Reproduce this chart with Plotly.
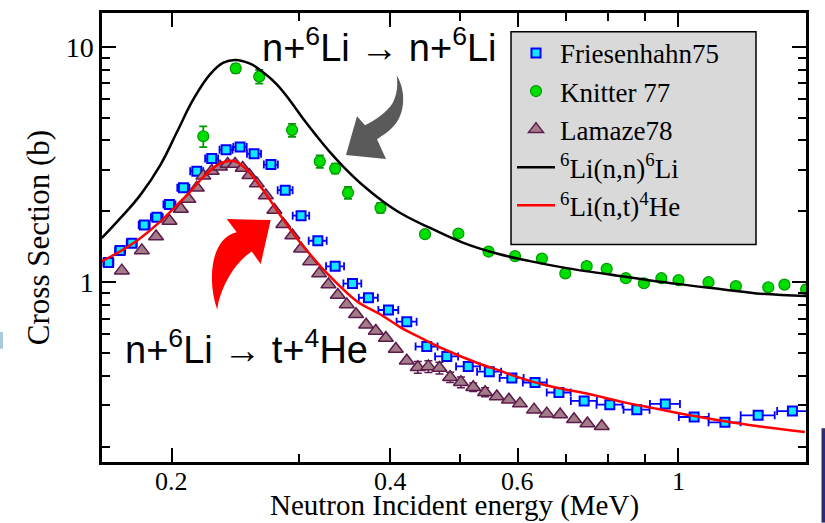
import math
import plotly.graph_objects as go

# ---------------- data ----------------
fr_x = [0.1635, 0.1697, 0.1761, 0.1832, 0.1907, 0.1985, 0.2075, 0.2165, 0.227, 0.2376,
        0.2484, 0.2597, 0.274, 0.2867, 0.3015, 0.318, 0.336, 0.355, 0.3735, 0.398,
        0.4218, 0.4495, 0.479, 0.5128, 0.5483, 0.589, 0.634, 0.684, 0.741, 0.804,
        0.876, 0.959, 1.051, 1.159, 1.288, 1.436]
fr_y = [1.214, 1.365, 1.465, 1.752, 1.886, 2.14, 2.52, 2.96, 3.35, 3.65,
        3.75, 3.51, 3.16, 2.46, 1.918, 1.50, 1.168, 0.987, 0.859, 0.762,
        0.680, 0.533, 0.484, 0.439, 0.417, 0.392, 0.375, 0.340, 0.313, 0.302,
        0.2875, 0.304, 0.2676, 0.254, 0.272, 0.2836]
fr_xerr = [0.0026, 0.0027, 0.0028, 0.0032, 0.0036, 0.0038, 0.0040, 0.0045, 0.0047, 0.0049,
           0.0053, 0.0058, 0.0061, 0.0068, 0.0079, 0.0091, 0.0096, 0.0101, 0.0113, 0.0126,
           0.0134, 0.0157, 0.0175, 0.0195, 0.0209, 0.0224, 0.0242, 0.0260, 0.0306, 0.0332,
           0.0362, 0.0457, 0.0500, 0.0589, 0.0695, 0.0680]

kn_x = [0.221, 0.245, 0.264, 0.293, 0.320, 0.336, 0.350, 0.388, 0.447, 0.497,
        0.547, 0.595, 0.648, 0.698, 0.747, 0.796, 0.846, 0.896, 0.947, 1.00,
        1.10, 1.20, 1.33, 1.40, 1.50]
kn_y = [4.17, 8.10, 7.47, 4.43, 3.26, 3.04, 2.40, 2.07, 1.60, 1.61,
        1.35, 1.29, 1.26, 1.09, 1.17, 1.14, 1.04, 0.99, 1.04, 1.02,
        1.00, 0.962, 0.952, 0.977, 0.932]
kn_yerr = [0.42, 0.35, 0.50, 0.28, 0.20, 0.15, 0.14, 0.10, 0.03, 0.03,
           0.03, 0.03, 0.03, 0.03, 0.03, 0.03, 0.03, 0.03, 0.03, 0.03,
           0.03, 0.03, 0.03, 0.03, 0.03]

la_x = [0.1706, 0.1818, 0.1902, 0.1985, 0.2058, 0.2108, 0.2165, 0.2211, 0.227, 0.2331,
        0.2388, 0.2445, 0.2505, 0.2559, 0.262, 0.2696, 0.277, 0.285, 0.2933, 0.3015,
        0.3103, 0.3193, 0.3289, 0.3388, 0.3486, 0.359, 0.3707, 0.3823, 0.3947, 0.4074,
        0.4218, 0.4368, 0.4518, 0.4679, 0.4841, 0.501, 0.521, 0.541, 0.5615, 0.5836,
        0.6043, 0.632, 0.658, 0.6866, 0.7176, 0.7487, 0.7837]
la_y = [1.12, 1.365, 1.563, 1.82, 2.046, 2.255, 2.517, 2.83, 2.97, 3.095,
        3.178, 3.178, 3.057, 2.847, 2.624, 2.336, 2.027, 1.762, 1.578, 1.387,
        1.226, 1.088, 0.978, 0.882, 0.805, 0.731, 0.659, 0.621, 0.579, 0.520,
        0.464, 0.435, 0.439, 0.432, 0.395, 0.376, 0.358, 0.341, 0.327, 0.317,
        0.305, 0.2875, 0.2765, 0.274, 0.2617, 0.251, 0.2444]
la_yerr = [0, 0, 0, 0, 0, 0, 0, 0, 0, 0,
           0, 0, 0, 0, 0, 0, 0, 0, 0, 0,
           0, 0, 0, 0, 0, 0, 0, 0, 0, 0,
           0, 0.025, 0.025, 0.025, 0.02, 0.02, 0.015, 0.015, 0, 0,
           0, 0, 0, 0, 0, 0, 0]

nn_x = [0.160, 0.1697, 0.1809, 0.1927, 0.2032, 0.2142, 0.2258, 0.2356, 0.2445, 0.2564,
        0.2675, 0.2791, 0.2912, 0.3037, 0.3170, 0.3307, 0.345, 0.3675, 0.3916, 0.4173,
        0.4543, 0.505, 0.5615, 0.624, 0.701, 0.804, 0.9945, 1.153, 1.282, 1.50]
nn_y = [1.538, 1.867, 2.344, 3.137, 4.336, 5.993, 7.64, 8.56, 8.79, 8.48,
        7.77, 6.93, 5.90, 4.93, 4.167, 3.561, 3.09, 2.569, 2.199, 1.934,
        1.70, 1.47, 1.324, 1.229, 1.148, 1.078, 0.984, 0.932, 0.896, 0.873]

nt_x = [0.160, 0.1697, 0.1809, 0.1927, 0.2032, 0.2119, 0.2211, 0.2307, 0.2393, 0.2459,
        0.255, 0.2675, 0.2821, 0.2974, 0.3135, 0.3254, 0.3599, 0.3877, 0.4129, 0.4306,
        0.469, 0.5324, 0.5673, 0.5918, 0.658, 0.755, 0.839, 0.933, 1.037, 1.153,
        1.282, 1.494]
nt_y = [1.226, 1.352, 1.538, 1.808, 2.128, 2.421, 2.802, 3.137, 3.272, 3.24,
        2.96, 2.45, 1.931, 1.538, 1.266, 1.113, 0.831, 0.731, 0.645, 0.602,
        0.528, 0.4494, 0.421, 0.401, 0.364, 0.334, 0.3095, 0.290, 0.272, 0.2573,
        0.245, 0.2312]

x_tickvals = [0.2, 0.4, 0.6, 1]
x_ticktext = ["0.2", "0.4", "0.6", "1"]
x_minor = [0.3, 0.5, 0.7, 0.8, 0.9]
y_tickvals = [1, 10]
y_ticktext = ["1", "10"]
y_minor = [0.2, 0.3, 0.4, 0.5, 0.6, 0.7, 0.8, 0.9, 2, 3, 4, 5, 6, 7, 8, 9]

# ---------------- layout geometry ----------------
W, H = 825, 523
ML, MR, MT, MB = 102, 19, 10, 61
PW, PH = W - ML - MR, H - MT - MB

def P(x, y):
    return (x - ML) / PW, (H - MB - y) / PH

def path(cmds):
    out = []
    for c in cmds:
        if isinstance(c, str):
            out.append(c)
        else:
            px, py = P(*c)
            out.append(f"{px:.5f},{py:.5f}")
    return " ".join(out)

SERIF = "Liberation Serif"
SANS = "Liberation Sans"

fig = go.Figure()

fig.add_trace(go.Scatter(
    x=fr_x, y=fr_y, mode="markers", name="Friesenhahn75",
    marker=dict(symbol="square", size=9, color="#11e8ff", line=dict(color="#0000ff", width=2)),
    error_x=dict(type="data", array=fr_xerr, color="#0000ff", thickness=1.8, width=4),
))
fig.add_trace(go.Scatter(
    x=kn_x, y=kn_y, mode="markers", name="Knitter 77",
    marker=dict(symbol="circle", size=11, color="#00dd00", line=dict(color="#009900", width=1.2)),
    error_y=dict(type="data", array=kn_yerr, color="#009900", thickness=1.8, width=4),
))
fig.add_trace(go.Scatter(
    x=la_x, y=la_y, mode="markers", name="Lamaze78",
    marker=dict(symbol="triangle-up", size=13, color="#a27c86", line=dict(color="#5c1a4c", width=1.5)),
    error_y=dict(type="data", array=la_yerr, color="#5c1a4c", thickness=1.5, width=4),
))
fig.add_trace(go.Scatter(
    x=nn_x, y=nn_y, mode="lines", name="<sup>6</sup>Li(n,n)<sup>6</sup>Li",
    line=dict(color="black", width=2.5, shape="spline", smoothing=1.2),
))
fig.add_trace(go.Scatter(
    x=nt_x, y=nt_y, mode="lines", name="<sup>6</sup>Li(n,t)<sup>4</sup>He",
    line=dict(color="#ff0000", width=2.5, shape="spline", smoothing=1.0),
))

axis_common = dict(
    type="log", showgrid=False, zeroline=False,
    showline=True, linecolor="black", linewidth=2.5, mirror="allticks",
    ticks="inside", ticklen=14, tickwidth=2, tickcolor="black",
    tickfont=dict(family=SERIF, size=28, color="black"),
)

fig.update_layout(
    width=W, height=H,
    margin=dict(l=ML, r=MR, t=MT, b=MB),
    paper_bgcolor="white", plot_bgcolor="white",
    font=dict(family=SERIF, color="black"),
    xaxis=dict(
        axis_common, range=[math.log10(0.1602), math.log10(1.4994)],
        tickmode="array", tickvals=x_tickvals, ticktext=x_ticktext,
        showticklabels=False,
        minor=dict(tickmode="array", tickvals=x_minor, ticks="inside", ticklen=8,
                   tickwidth=2, tickcolor="black", showgrid=False),
    ),
    yaxis=dict(
        axis_common, range=[math.log10(0.1723), math.log10(13.92)],
        tickmode="array", tickvals=y_tickvals, ticktext=y_ticktext,
        minor=dict(tickmode="array", tickvals=y_minor, ticks="inside", ticklen=8,
                   tickwidth=2, tickcolor="black", showgrid=False),
        title=dict(text="Cross Section (b)",
                   font=dict(family=SERIF, size=31, color="black"), standoff=7),
    ),
    showlegend=True,
    legend=dict(
        x=P(512, 0)[0], y=P(0, 26)[1], xanchor="left", yanchor="top",
        bgcolor="rgba(0,0,0,0)", borderwidth=0, itemwidth=38,
        font=dict(family=SERIF, size=27, color="black"),
        tracegroupgap=0,
    ),
)

# legend box
lx0, ly0 = P(511, 243)
lx1, ly1 = P(756, 29)
shapes = [
    dict(type="rect", xref="paper", yref="paper", x0=lx0, y0=ly0, x1=lx1, y1=ly1,
         fillcolor="#d9d9d9", line=dict(color="black", width=1.5), layer="above"),
    # gray curved arrow
    dict(type="path", xref="paper", yref="paper", layer="above",
         fillcolor="#5a5a5a", line=dict(width=0),
         path=path(["M", (396.7, 73), "C", (405, 86), (406, 108), (396, 121),
                    "C", (390, 129), (383, 133), (377, 137),
                    "L", (386, 157), "L", (346, 153), "L", (357, 114), "L", (365, 123),
                    "C", (375, 118), (387, 110), (393, 100),
                    "C", (397, 92), (398, 83), (396.7, 73), "Z"])),
    # red curved arrow
    dict(type="path", xref="paper", yref="paper", layer="above",
         fillcolor="#ff0000", line=dict(width=0),
         path=path(["M", (217.3, 309), "C", (209, 285), (210, 255), (222, 240),
                    "C", (226, 235), (231, 232), (236.7, 230.7),
                    "L", (226.7, 217.5), "L", (270.7, 218.5), "L", (260.7, 262.7), "L", (251.7, 250),
                    "C", (240, 258), (229, 272), (222, 290),
                    "C", (219, 298), (217.5, 304), (217.3, 309), "Z"])),
]
# slide decorations at the picture edges
bx0, by0 = P(821.5, 523)
bx1, by1 = P(826, 428)
shapes.append(dict(type="rect", xref="paper", yref="paper", x0=bx0, y0=by0, x1=bx1, y1=by1,
                   fillcolor="#2b2d6e", line=dict(width=0), layer="above"))
sx0, sy0 = P(-1, 348)
sx1, sy1 = P(3, 331)
shapes.append(dict(type="rect", xref="paper", yref="paper", x0=sx0, y0=sy0, x1=sx1, y1=sy1,
                   fillcolor="#a9c9dc", line=dict(width=0), layer="above"))
fig.update_layout(shapes=shapes)

# x tick labels, placed through the x axis scale
tick_y = P(0, 482)[1]
for v, t in zip(x_tickvals, x_ticktext):
    fig.add_annotation(x=math.log10(v), xref="x", y=tick_y, yref="paper", showarrow=False,
                       text=t, font=dict(family=SERIF, size=26, color="black"),
                       xanchor="center", yanchor="middle")

a1x, a1y = P(379, 42)
a2x, a2y = P(246, 346)
fig.add_annotation(x=a1x, y=a1y, xref="paper", yref="paper", showarrow=False,
                   text="n+<sup>6</sup>Li → n+<sup>6</sup>Li",
                   font=dict(family=SANS, size=38, color="black"),
                   xanchor="center", yanchor="middle")
fig.add_annotation(x=a2x, y=a2y, xref="paper", yref="paper", showarrow=False,
                   text="n+<sup>6</sup>Li → t+<sup>4</sup>He",
                   font=dict(family=SANS, size=38, color="black"),
                   xanchor="center", yanchor="middle")
# x axis title placed as text under the tick labels
tx, ty = P(454, 506)
fig.add_annotation(x=tx, y=ty, xref="paper", yref="paper", showarrow=False,
                   text="Neutron Incident energy (MeV)",
                   font=dict(family=SERIF, size=29, color="black"),
                   xanchor="center", yanchor="middle")

fig.write_html("out.html", config={"displayModeBar": False})
